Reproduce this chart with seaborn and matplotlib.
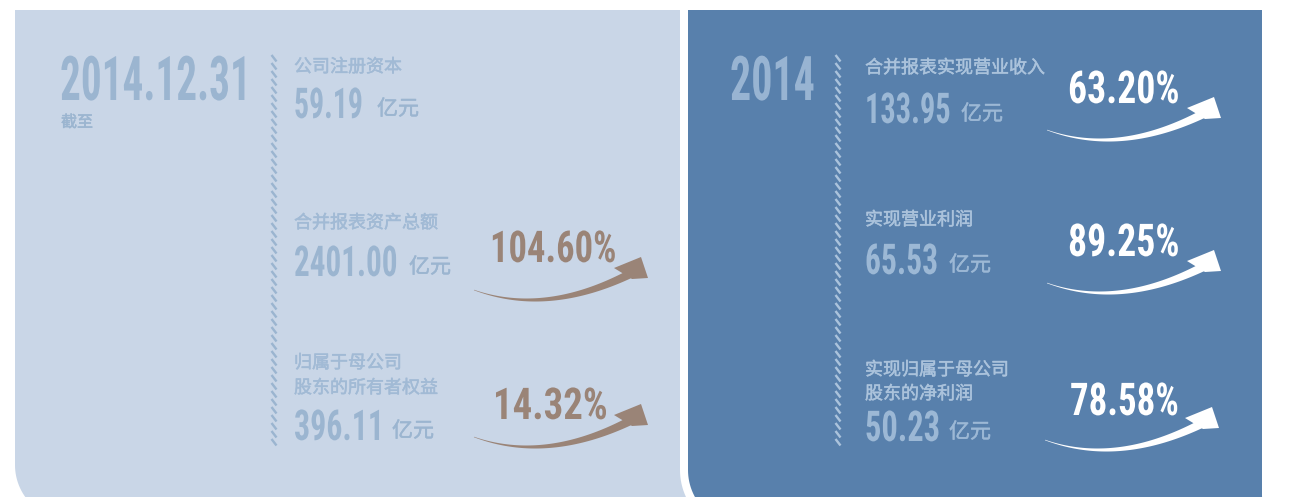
import numpy as np
import matplotlib
matplotlib.use("Agg")
import matplotlib.pyplot as plt
import seaborn as sns
from matplotlib.patches import Polygon
from matplotlib import font_manager
from matplotlib import patheffects
from matplotlib.font_manager import FontProperties
from matplotlib.textpath import TextPath
from matplotlib.patheffects import AbstractPathEffect
from matplotlib.transforms import Affine2D

# ---- data ----
date_left = "2014.12.31"
date_left_sub = "截至"
left_labels = [["公司注册资本"], ["合并报表资产总额"], ["归属于母公司", "股东的所有者权益"]]
left_values = ["59.19", "2401.00", "396.11"]
left_growth = [None, "104.60%", "14.32%"]

year_right = "2014"
right_labels = [["合并报表实现营业收入"], ["实现营业利润"], ["实现归属于母公司", "股东的净利润"]]
right_values = ["133.95", "65.53", "50.23"]
right_growth = ["63.20%", "89.25%", "78.58%"]
unit = "亿元"

# ---- colours ----
LIGHT_BG = "#c9d6e7"
BLUE_BG = "#5880ac"
LEFT_TXT = "#9bb5d0"
LEFT_LBL = "#a1bad5"
BROWN = "#9a8477"
RIGHT_BIG = "#98b4d2"
RIGHT_LBL = "#abc3dc"
RIGHT_VAL = "#9cb8d5"

sns.set_theme(style="white")
CJK = ["Noto Sans CJK SC", "DejaVu Sans"]
plt.rcParams["font.family"] = CJK

names = {f.name for f in font_manager.fontManager.ttflist}
NUM_FONT = "DejaVu Sans"
for cand in ["Liberation Sans Narrow", "DejaVu Sans Condensed", "Roboto Condensed",
             "Roboto", "Liberation Sans"]:
    if cand in names:
        NUM_FONT = cand
        break
NUM_PROP = FontProperties(family=NUM_FONT, weight="bold")

PX = 72 / 100  # points per pixel at dpi 100


def fs(px):
    return px * PX


class TallText(AbstractPathEffect):
    """stretch glyphs vertically about the baseline (condensed look)"""

    def __init__(self, sy):
        super().__init__()
        self.sy = sy

    def draw_path(self, renderer, gc, tpath, affine, rgbFace=None):
        ox, oy = affine.transform((0, 0))
        aff = affine + Affine2D().translate(-ox, -oy).scale(1, self.sy).translate(ox, oy)
        renderer.draw_path(gc, tpath, aff, rgbFace)


fig = plt.figure(figsize=(12.97, 4.97), dpi=100)
ax = fig.add_axes([0, 0, 1, 1])
ax.set_xlim(0, 1297)
ax.set_ylim(497, 0)
ax.axis("off")


def num_text(x, y, s, width, height, color):
    w100 = TextPath((0, 0), s, size=100, prop=NUM_PROP).get_extents().width
    em = 100 * width / w100
    h = TextPath((0, 0), "0", size=em, prop=NUM_PROP).get_extents().height
    ax.text(x, y, s, fontsize=fs(em), fontweight="bold", color=color, family=NUM_FONT,
            ha="left", va="baseline", zorder=7, path_effects=[TallText(height / h)])


def cjk_text(x, y, s, size, color):
    # a hairline stroke gives the slightly heavier weight of the original
    ax.text(x, y, s, fontsize=fs(size), color=color, ha="left", va="baseline", zorder=7,
            path_effects=[patheffects.withStroke(linewidth=0.35, foreground=color)])


def panel(x0, x1, y0, y1, r, **kw):
    t = np.linspace(np.pi, np.pi / 2, 30)
    arc = np.c_[x0 + r + r * np.cos(t), y1 - r + r * np.sin(t)]
    pts = np.vstack([[x0, y0], [x1, y0], [x1, y1], arc[::-1], [x0, y0]])
    ax.add_patch(Polygon(pts, closed=True, **kw))


panel(15, 700, 10, 520, 55, facecolor=LIGHT_BG, edgecolor="none", zorder=1)
panel(684, 1275, 6, 530, 60, facecolor=BLUE_BG, edgecolor="white", linewidth=fs(8), zorder=2)
ax.add_patch(Polygon([[680, 0], [1297, 0], [1297, 10], [680, 10]], closed=True,
                     facecolor="white", edgecolor="none", zorder=3))
panel(1262, 1340, 6, 545, 50, facecolor="white", edgecolor="none", zorder=4)


def hatch_line(x, y0, y1, color):
    for y in np.arange(y0, y1, 8):
        ax.plot([x - 2.5, x + 2.5], [y, y + 6.5], color=color, lw=fs(2.4),
                solid_capstyle="butt", zorder=5)


hatch_line(274, 55, 445, LEFT_TXT)
hatch_line(838, 55, 445, RIGHT_LBL)


def swoosh(x0, y0, color):
    # curved arrow whose tail starts at (x0, y0)
    p0 = np.array([x0, y0])
    p1 = np.array([x0 + 72, y0 + 26])
    p2 = np.array([x0 + 156, y0 - 16])
    t = np.linspace(0, 1, 80)[:, None]
    c = (1 - t) ** 2 * p0 + 2 * (1 - t) * t * p1 + t ** 2 * p2
    d = 2 * (1 - t) * (p1 - p0) + 2 * t * (p2 - p1)
    n = np.c_[d[:, 1], -d[:, 0]] / np.linalg.norm(d, axis=1)[:, None]
    w = 0.5 + 8.0 * t[:, 0] ** 1.2
    upper = c + n * w[:, None] * 0.5
    lower = c - n * w[:, None] * 0.5
    body = np.vstack([upper, lower[::-1]])
    ax.add_patch(Polygon(body, closed=True, facecolor=color, edgecolor="none", zorder=6))
    e = p2
    head = np.array([e + [-16, -6], e + [11, -17], e + [18, 4], e + [2, 5]])
    ax.add_patch(Polygon(head, closed=True, facecolor=color, edgecolor="none", zorder=6))


# ---- left panel ----
num_text(60, 100, date_left, 183, 45, LEFT_TXT)
cjk_text(61, 127, date_left_sub, 16, LEFT_TXT)

lbl_base = [[72], [228], [368, 393]]
val_base = [118, 276, 440]
val_w = [66, 101, 84]
unit_x_left = [377, 409, 392]
growth_base_left = [None, 262, 419]
growth_x_left = [None, 490, 493]
growth_w_left = [None, 122, 110]
arrow_left = [None, (474, 290), (474, 437)]
for i in range(3):
    for lab, yb in zip(left_labels[i], lbl_base[i]):
        cjk_text(294, yb, lab, 18, LEFT_LBL)
    num_text(294, val_base[i], left_values[i], val_w[i], 31, LEFT_TXT)
    cjk_text(unit_x_left[i], val_base[i] - 3, unit, 21, LEFT_TXT)
    if left_growth[i]:
        num_text(growth_x_left[i], growth_base_left[i], left_growth[i],
                 growth_w_left[i], 32, BROWN)
        swoosh(*arrow_left[i], BROWN)

# ---- right panel ----
num_text(730, 100, year_right, 82, 45, RIGHT_BIG)

lbl_base_r = [[73], [225], [375, 399]]
val_base_r = [123, 274, 441]
val_w_r = [82, 70, 72]
unit_x_right = [961, 949, 949]
growth_base_r = [103, 256, 415]
growth_x_r = [1068, 1068, 1070]
growth_w_r = [108, 108, 106]
arrow_right = [(1047, 130), (1047, 283), (1045, 440)]
for i in range(3):
    for lab, yb in zip(right_labels[i], lbl_base_r[i]):
        cjk_text(865, yb, lab, 18, RIGHT_LBL)
    num_text(865, val_base_r[i], right_values[i], val_w_r[i], 31, RIGHT_VAL)
    cjk_text(unit_x_right[i], val_base_r[i] - 3, unit, 21, RIGHT_VAL)
    num_text(growth_x_r[i], growth_base_r[i], right_growth[i], growth_w_r[i], 33, "white")
    swoosh(*arrow_right[i], "white")

fig.savefig("out.png", dpi=100, facecolor="white")
